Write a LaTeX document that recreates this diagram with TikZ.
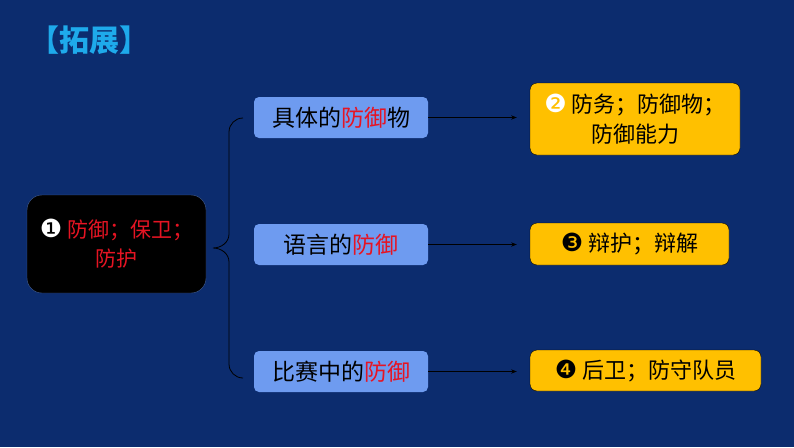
\documentclass[tikz,border=0pt]{standalone}
\usepackage{fontspec}
\newfontfamily\cjk{Noto Sans CJK SC}
\newfontfamily\sym{DejaVu Sans}
\usepackage{tikz}
\usetikzlibrary{arrows.meta, positioning}
\usepackage{xcolor}

\definecolor{navy}{RGB}{12,44,110}
\definecolor{paleblue}{RGB}{110,155,240}
\definecolor{gold}{RGB}{255,192,0}
\definecolor{hotred}{RGB}{230,20,35}
\definecolor{titleblue}{RGB}{30,170,235}

\tikzset{
  rootbox/.style={draw=black!40!paleblue, fill=black, rounded corners=15pt, thin,
    minimum width=179pt, minimum height=98pt, align=center,
    font=\cjk\fontsize{21}{29}\selectfont, text=hotred},
  sensebox/.style={fill=paleblue, rounded corners=5pt, minimum width=174pt,
    minimum height=41pt, font=\cjk\fontsize{23}{28}\selectfont, text=black},
  meaningbox/.style={draw=black, fill=gold, rounded corners=7pt, thin, align=center,
    font=\cjk\fontsize{22}{30}\selectfont, text=black},
  link/.style={-Stealth, semithick, color=black, shorten >=13pt},
}
\newcommand{\fang}{\textcolor{hotred}{防御}}
\newcommand{\dig}[2]{{\sym\fontsize{25}{25}\selectfont\textcolor{#2}{#1}}}

\begin{document}
\begin{tikzpicture}[x=1pt, y=-1pt]
            \fill[navy] (0,0) rectangle (794,447);
            \useasboundingbox (0,0) rectangle (794,447);

            \node[font=\cjk\bfseries\fontsize{30}{30}\selectfont, text=titleblue] (title) at (89,40) {【拓展】};

            \node[rootbox] (root) at (116.5,244) {\dig{❶}{white} 防御；保卫；\\防护};

            \node[sensebox] (thing) at (341,117.5) {具体的\fang 物};
            \node[sensebox] (speech) at (341,244.5) {语言的\fang};
            \node[sensebox] (match) at (341,371.5) {比赛中的\fang};

            \node[meaningbox, minimum width=210pt, minimum height=72pt] (defence) at (635,119) {\dig{❷}{white} 防务；防御物；\\防御能力};
            \node[meaningbox, minimum width=199pt, minimum height=42pt] (plea) at (629.5,244) {\dig{❸}{black} 辩护；辩解};
            \node[meaningbox, minimum width=231pt, minimum height=41pt] (back) at (645.5,370.5) {\dig{❹}{black} 后卫；防守队员};

            \draw[link] (thing.east) -- (thing.east -| defence.west);
            \draw[link] (speech.east) -- (speech.east -| plea.west);
            \draw[link] (match.east) -- (match.east -| back.west);

            % brace
            \coordinate (bracetop) at (243,118);
            \coordinate (bracetip) at (213,248);
            \coordinate (bracebot) at (243,378);
            \draw[color=black, thick] (bracetop) to[out=180,in=90] (229,132) -- (229,234)
                to[out=270,in=0] (bracetip) to[out=0,in=90] (229,262) -- (229,364)
                to[out=270,in=180] (bracebot);
        \end{tikzpicture}
\end{document}
